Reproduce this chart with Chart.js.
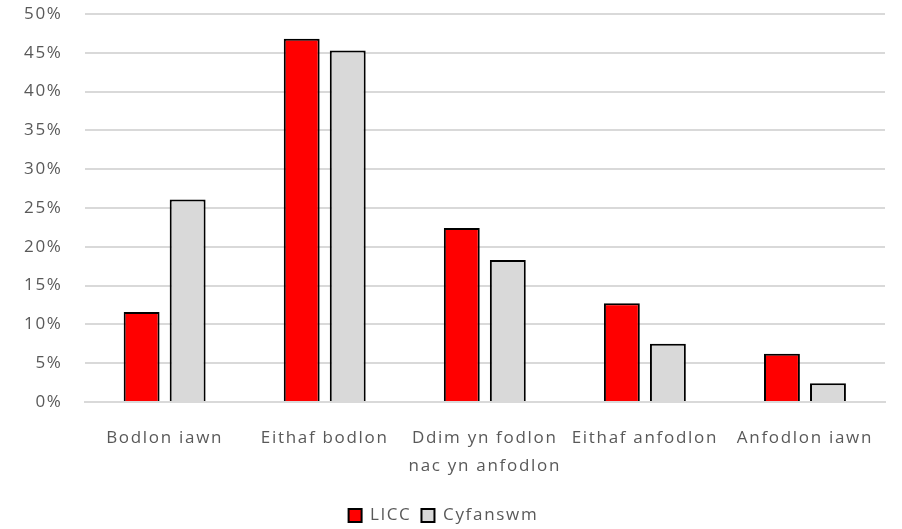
<!DOCTYPE html>
<html>
<head>
<meta charset="utf-8">
<script src="https://cdn.jsdelivr.net/npm/chart.js@4"></script>
<style>
  html, body { margin: 0; padding: 0; background: #fff; }
  #wrap { width: 902px; height: 529px; }
</style>
</head>
<body>
<div id="wrap"><canvas id="chart"></canvas></div>
<script>
const categories = [
  "Bodlon iawn",
  "Eithaf bodlon",
  ["Ddim yn fodlon", "nac yn anfodlon"],
  "Eithaf anfodlon",
  "Anfodlon iawn",
];
const llccValues = [11.6, 46.8, 22.4, 12.7, 6.2];
const cyfanswmValues = [26.1, 45.3, 18.3, 7.5, 2.4];
const yTicks = [0, 5, 10, 15, 20, 25, 30, 35, 40, 45, 50];

Chart.defaults.font.family = "'Open Sans', 'Noto Sans', sans-serif";
Chart.defaults.font.size = 17;
Chart.defaults.color = "#595959";

// the original text is set wide, so space the letters a little
const spacing = {
  id: "spacing",
  beforeUpdate: (chart) => { chart.ctx.letterSpacing = "1.7px"; },
  beforeDraw: (chart) => { chart.ctx.letterSpacing = "1.7px"; },
};

new Chart(document.getElementById("chart").getContext("2d"), {
  type: "bar",
  plugins: [spacing],
  data: {
    labels: categories,
    datasets: [
      {
        label: "LlCC",
        data: llccValues,
        backgroundColor: "#ff0000",
        borderColor: "#000000",
        borderWidth: 2,
        categoryPercentage: 0.575,
        barPercentage: 0.78,
      },
      {
        label: "Cyfanswm",
        data: cyfanswmValues,
        backgroundColor: "#d9d9d9",
        borderColor: "#000000",
        borderWidth: 2,
        categoryPercentage: 0.575,
        barPercentage: 0.78,
      },
    ],
  },
  options: {
    responsive: true,
    maintainAspectRatio: false,
    animation: false,
    layout: { padding: { left: 2, right: 17, top: 0, bottom: -5 } },
    plugins: {
      tooltip: { enabled: false },
      legend: {
        position: "bottom",
        labels: {
          boxWidth: 13,
          boxHeight: 13,
          padding: 10,
          color: "#595959",
        },
      },
    },
    scales: {
      x: {
        afterFit: (axis) => {
          axis.height += 3;
        },
        grid: { display: false },
        border: { color: "#d9d9d9", width: 2 },
        ticks: { maxRotation: 0, padding: 14, font: { lineHeight: 1.65 } },
      },
      y: {
        min: 0,
        max: 50,
        afterBuildTicks: (axis) => {
          axis.ticks = yTicks.map((v) => ({ value: v }));
        },
        // keep the wide label gap from pushing the plot down
        afterFit: (axis) => {
          axis.paddingTop = 14;
        },
        grid: { color: "#d9d9d9", lineWidth: 2, drawTicks: false },
        border: { display: false },
        ticks: {
          padding: 22,
          callback: (v) => v + "%",
        },
      },
    },
  },
});
</script>
</body>
</html>
